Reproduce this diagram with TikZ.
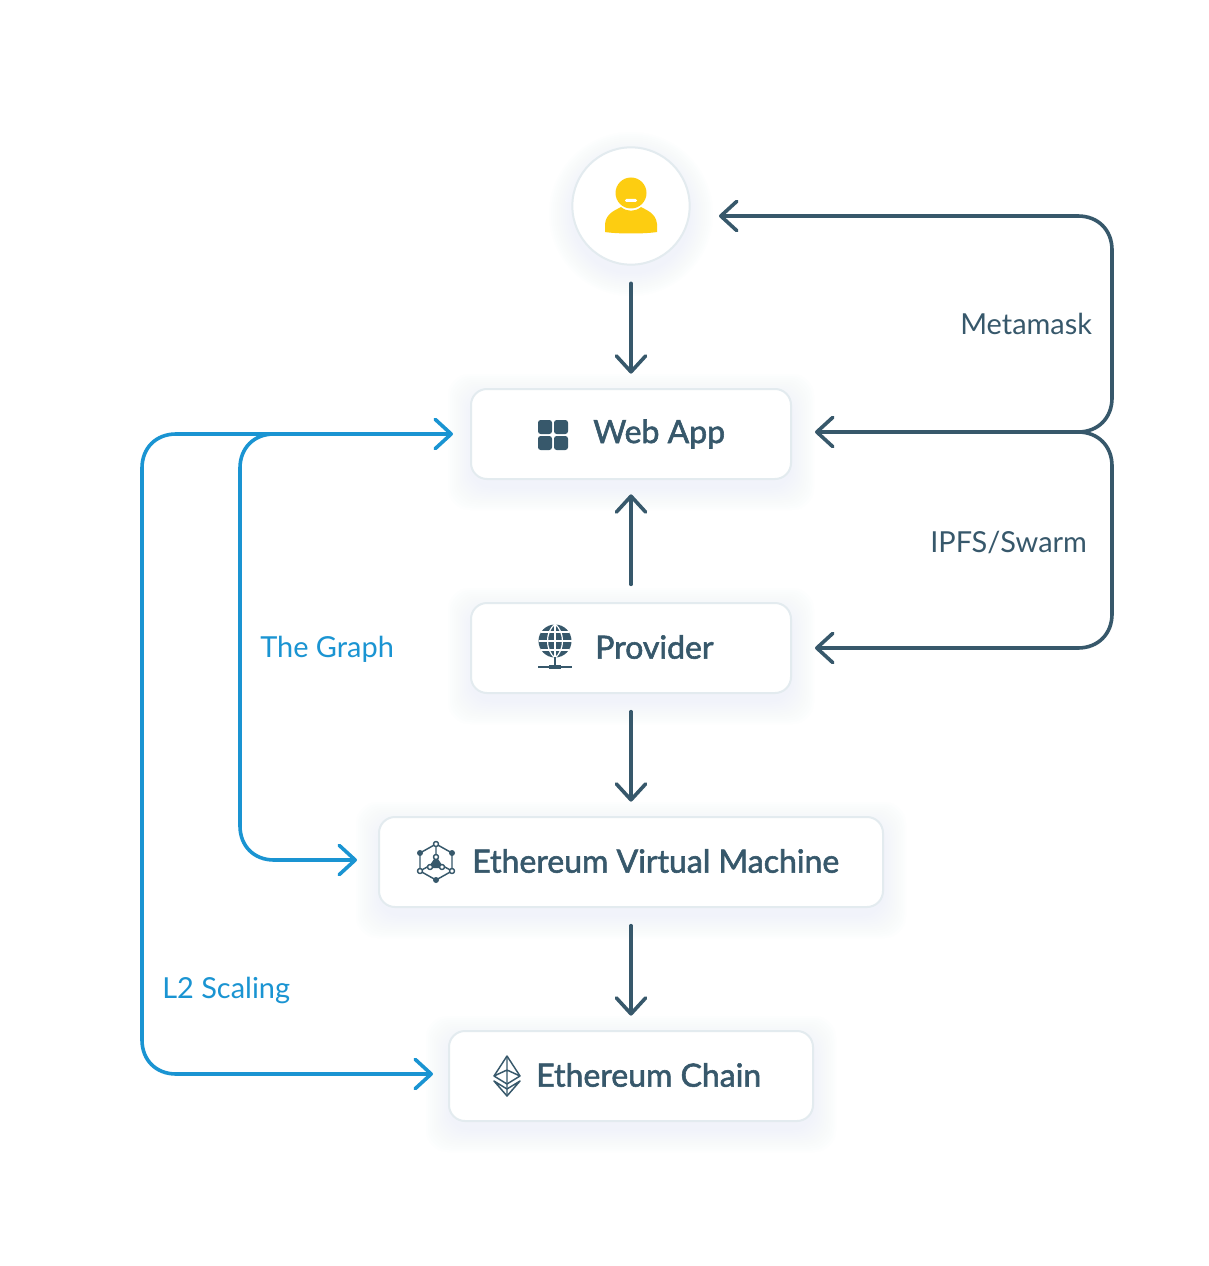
\documentclass[tikz,border=0pt]{standalone}
\usepackage{fontspec}
\setmainfont{Lato}
\newfontfamily\medfont[FakeBold=1.8]{Lato}
\usetikzlibrary{arrows.meta}
\definecolor{ink}{HTML}{37586B}
\definecolor{sky}{HTML}{1A94D2}
\definecolor{edge}{HTML}{E3EBEF}
\definecolor{sun}{HTML}{FDCD11}
\definecolor{glowc}{HTML}{BCE6FA}
\tikzset{
  x=0.75pt,y=-0.75pt,
  tipd/.tip={Straight Barb[length=12pt,width=22pt,round,line cap=round]},
  cardbox/.style={draw=edge,line width=1.5pt,fill=white,rounded corners=12pt,outer sep=0pt,inner sep=0pt,minimum height=67.5pt},
  usercircle/.style={circle,draw=edge,line width=1.5pt,fill=white,outer sep=0pt,inner sep=0pt,minimum size=88pt},
  darkline/.style={draw=ink,line width=2.7pt,line cap=round},
  blueline/.style={draw=sky,line width=2.7pt,line cap=round},
  darkarrow/.style={darkline,-{tipd},shorten >=11.5pt,shorten <=14pt},
  cardtext/.style={font=\medfont\fontsize{24}{30}\selectfont,text=ink,anchor=west,inner sep=0pt},
  darklabel/.style={font=\fontsize{21.7}{28}\selectfont,text=ink,anchor=west,inner sep=0pt},
  bluelabel/.style={font=\fontsize{21.7}{28}\selectfont,text=sky,anchor=west,inner sep=0pt},
  iconline/.style={draw=ink,line width=1.1pt,line join=round},
}
\newcommand{\glowrect}[4]{%
  \foreach \g in {1,3,...,23}{%
    \fill[glowc,opacity=0.016,rounded corners=16pt] (#1-\g,#2-\g+8) rectangle (#3+\g,#4+\g+8);}}
\begin{document}
\begin{tikzpicture}
\useasboundingbox (0,0) rectangle (1208,1266);
\fill[white] (0,0) rectangle (1208,1266);
% soft glows
\foreach \g in {1,3,...,23}{\fill[glowc,opacity=0.016] (631,214) circle[radius=59+\g];}
\glowrect{471}{389}{791}{479}
\glowrect{471}{603}{791}{693}
\glowrect{379}{817}{883}{907}
\glowrect{449}{1031}{813}{1121}
% nodes
\node[usercircle] (user) at (631,206) {};
\node[cardbox,minimum width=240pt] (web) at (631,434) {};
\node[cardbox,minimum width=240pt] (provider) at (631,648) {};
\node[cardbox,minimum width=378pt] (evm) at (631,862) {};
\node[cardbox,minimum width=273pt] (chain) at (631,1076) {};
% card texts
\node[cardtext] (webt) at (593,434) {Web App};
\node[cardtext] (provt) at (595,647) {Provider};
\node[cardtext] (evmt) at (472,861) {Ethereum Virtual Machine};
\node[cardtext] (chaint) at (536,1075) {Ethereum Chain};
% side labels
\node[darklabel] (meta) at (960,324) {Metamask};
\node[darklabel] (ipfs) at (930,542) {IPFS/Swarm};
\node[bluelabel] (graph) at (260,649) {The Graph};
\node[bluelabel] (scale) at (162,990) {L2 Scaling};
% straight arrows
\draw[darkarrow] (user.south) -- (web.north);
\draw[darkarrow] (provider.north) -- (web.south);
\draw[darkarrow] (provider.south) -- (evm.north);
\draw[darkarrow] (evm.south) -- (chain.north);
% right-hand routes
\coordinate (rj) at (1078,432);
\coordinate (userin) at (719,216);
\coordinate (webin) at (815,432);
\coordinate (provin) at (815,648);
\draw[darkline,-{tipd}] (rj) .. controls (1098,432) and (1112,418) .. (1112,398) -- (1112,250) .. controls (1112,230) and (1098,216) .. (1078,216) -- (userin);
\draw[darkline,-{tipd}] (rj) -- (webin);
\draw[darkline,-{tipd}] (rj) .. controls (1098,432) and (1112,446) .. (1112,466) -- (1112,614) .. controls (1112,634) and (1098,648) .. (1078,648) -- (provin);
% left-hand routes
\coordinate (lj) at (274,434);
\coordinate (webl) at (453,434);
\coordinate (evml) at (357,860);
\coordinate (chainl) at (433,1074);
\draw[blueline,-{tipd}] (lj) -- (webl);
\draw[blueline,-{tipd}] (lj) .. controls (254,434) and (240,448) .. (240,468) -- (240,826) .. controls (240,846) and (254,860) .. (274,860) -- (evml);
\draw[blueline,-{tipd}] (lj) -- (176,434) .. controls (156,434) and (142,448) .. (142,468) -- (142,1040) .. controls (142,1060) and (156,1074) .. (176,1074) -- (chainl);
% user icon
\fill[sun] (631,193) circle[radius=15.5];
\fill[sun] (605,232) -- (605,224) .. controls (606,213) and (616,210) .. (621,207) .. controls (627,212) and (635,212) .. (641,207) .. controls (646,210) and (656,213) .. (657,224) -- (657,232) .. controls (645,234) and (617,234) .. (605,232) -- cycle;
\fill[white,rounded corners=1pt] (625,199) rectangle (637,202);
% grid icon
\foreach \ix/\iy in {538/420,554/420,538/436,554/436}{\fill[ink,rounded corners=2pt] (\ix,\iy) rectangle ++(14,14);}
% globe icon
\begin{scope}
\fill[ink] (555,641) circle[radius=16.5];
\draw[white,line width=0.9pt] (555,624) -- (555,658) (539,641) -- (572,641) (541,632) -- (569,632) (541,650) -- (569,650);
\draw[white,line width=0.9pt] (555,624) .. controls (545,632) and (545,650) .. (555,658);
\draw[white,line width=0.9pt] (555,624) .. controls (565,632) and (565,650) .. (555,658);
\draw[iconline] (555,657) -- (555,667);
\draw[iconline] (538,667) -- (572,667);
\fill[ink] (549,665) rectangle (561,669);
\end{scope}
% evm icon
\draw[iconline] (436,844) -- (452,853) -- (452,871) -- (436,880) -- (420,871) -- (420,853) -- cycle;
\draw[iconline] (436,844) -- (436,866) (420,871) -- (436,862) -- (452,871);
\fill[ink] (436,856) -- (444,868) -- (428,868) -- cycle;
\foreach \ex/\ey in {420/853,452/853,436/880}{\fill[ink] (\ex,\ey) circle[radius=3];}
\foreach \ex/\ey in {436/844,420/871,452/871,436/857,430/867,442/867}{\draw[iconline,fill=white] (\ex,\ey) circle[radius=2.5];}
% ether icon
\draw[iconline] (507,1056) -- (494,1076) -- (507,1084) -- (520,1076) -- cycle;
\draw[iconline] (494,1076) -- (507,1070) -- (520,1076) (507,1056) -- (507,1096);
\draw[iconline] (494,1081) -- (507,1096) -- (520,1081) -- (507,1089) -- cycle;
\end{tikzpicture}
\end{document}
